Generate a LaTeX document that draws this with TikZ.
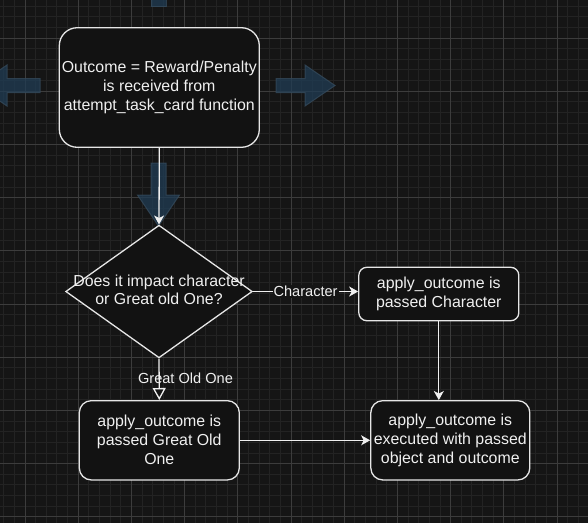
\documentclass[tikz,border=0pt]{standalone}
\usepackage{fontspec}
\setmainfont{Liberation Sans}
\usepackage{tikz}
\usetikzlibrary{
    arrows.meta,
    shapes.geometric
}
\definecolor{canvas}{HTML}{151515}
\definecolor{gridminor}{HTML}{232323}
\definecolor{gridmajor}{HTML}{3C3C3C}
\definecolor{boxfill}{HTML}{121212}
\definecolor{boxline}{HTML}{E6E6E6}
\definecolor{flowline}{HTML}{F0F0F0}
\definecolor{hoverfill}{HTML}{203D55}
\definecolor{hoverline}{HTML}{34495A}

\begin{document}
\begin{tikzpicture}[x=1pt, y=-1pt,
    every node/.style={text=flowline, font=\fontsize{15.9}{19}\selectfont, align=center},
    stepbox/.style={draw=boxline, fill=boxfill, line width=1.3pt, rounded corners=#1, inner sep=0pt},
    stepbox/.default=12pt,
    decision/.style={diamond, draw=boxline, fill=boxfill, line width=1.3pt,
        minimum width=186.6pt, minimum height=132.7pt, inner sep=0pt},
    edgelabel/.style={font=\fontsize{14.6}{17}\selectfont, inner sep=1pt},
    flow/.style={draw=flowline, line width=1.3pt, -{Stealth[length=9pt, width=10pt, inset=2.5pt]}},
    flowopen/.style={draw=flowline, line width=1.3pt, -{Triangle[open, length=12pt, width=13pt]}},
    hover/.style={fill=hoverfill, fill opacity=0.75, draw=hoverline, draw opacity=0.8, line width=1pt}
]
                                \useasboundingbox (0,0) rectangle (588,523);
                                \begin{scope}
                                \clip (0,0) rectangle (588,523);
                                \fill[canvas] (0,0) rectangle (588,523);
                                % grid
                                \foreach \k in {0,...,55}
                                    \draw[gridminor, line width=0.9pt] ({3.72+\k*10.64},0) -- ++(0,523);
                                \foreach \k in {0,...,48}
                                    \draw[gridminor, line width=0.9pt] (0,{6.08+\k*10.64}) -- ++(588,0);
                                \foreach \k in {0,...,10}
                                    \draw[gridmajor, line width=0.9pt] ({25+\k*53.2},0) -- ++(0,523);
                                \foreach \k in {0,...,9}
                                    \draw[gridmajor, line width=0.9pt] (0,{38+\k*53.2}) -- ++(588,0);
                                % hover arrows
                                \draw[hover]
                                (276,78.5) -- (305,78.5) -- (305,65) -- (335,85.5) -- (305,106) -- (305,92.5) -- (276,92.5) -- cycle;
                                \draw[hover]
                                (40,78.5) -- (7,78.5) -- (7,65) -- (-23,85.5) -- (7,106) -- (7,92.5) -- (40,92.5) -- cycle;
                                \draw[hover]
                                (151,163) -- (166,163) -- (166,195) -- (179.5,195) -- (158.5,226) -- (137.5,195) -- (151,195) -- cycle;
                                \draw[hover] (151,-5) rectangle (166,6.5);
                                \end{scope}
                                % steps
                                \node[stepbox=18pt, minimum width=200pt, minimum height=119.6pt] (outcome) at (159.3,87.5)
                                    {Outcome = Reward/Penalty\\is received from\\attempt\_task\_card function};
                                \node[decision] (impact) at (159,291.5) {};
                                \node[font=\fontsize{15.9}{18}\selectfont] (impacttext) at (159,289.5)
                                    {Does it impact character\\or Great old One?};
                                \node[stepbox=8pt, minimum width=160pt, minimum height=53.4pt] (passchar) at (438.8,294)
                                    {apply\_outcome is\\passed Character};
                                \node[stepbox, minimum width=160pt, minimum height=79.3pt] (passgoo) at (159.3,440.3)
                                    {apply\_outcome is\\passed Great Old\\One};
                                \node[stepbox, minimum width=159pt, minimum height=79.3pt] (execute) at (450.3,440.3)
                                    {apply\_outcome is\\executed with passed\\object and outcome};
                                % connectors
                                \draw[flow] (outcome.south) -- (impact.north);
                                \draw[flow] (impact.east) -- node[edgelabel, fill=canvas] (charlabel) {Character}
                                    (impact.east -| passchar.west);
                                \draw[flow] (passchar.south) -- (passchar.south |- execute.north);
                                \draw[flowopen] (impact.south) -- (passgoo.north);
                                \node[edgelabel] (goolabel) at (185.5,378) {Great Old One};
                                \draw[flow] (passgoo.east) -- (execute.west);
                            \end{tikzpicture}
\end{document}
